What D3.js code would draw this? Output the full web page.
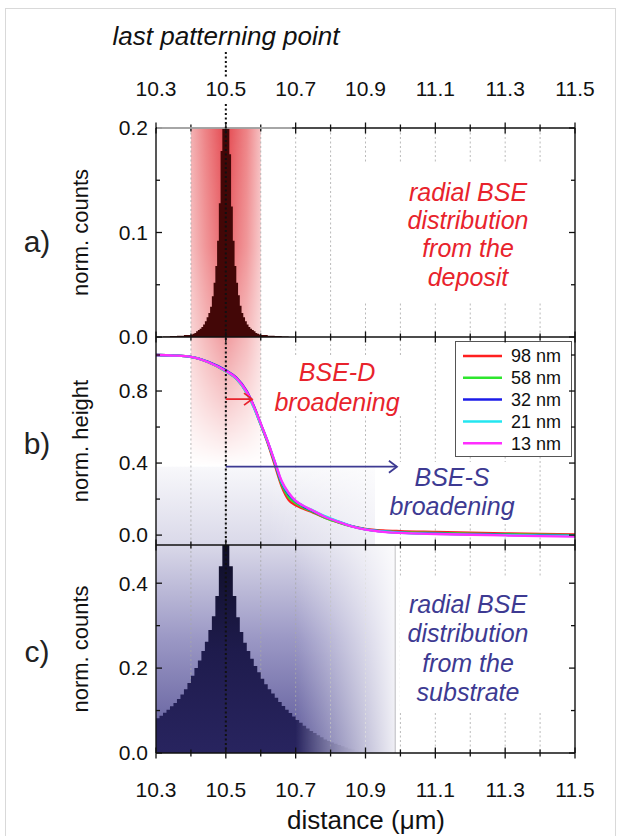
<!DOCTYPE html>
<html><head><meta charset="utf-8">
<script src="https://cdn.jsdelivr.net/npm/d3@7"></script>
<style>html,body{margin:0;padding:0;background:#fff;} svg{display:block;font-family:"Liberation Sans",Arial,sans-serif;}</style>
</head><body><svg id="chart" width="620" height="836"></svg>
<script>
// ---------------- DATA ----------------
const xTicksMajor = [10.3, 10.5, 10.7, 10.9, 11.1, 11.3, 11.5];
const xTicksMinor = [10.4, 10.6, 10.8, 11.0, 11.2, 11.4];
const yTicksA = [0.0, 0.1, 0.2];  const yMinorA = [0.05, 0.15];
const yTicksB = [0.0, 0.4, 0.8];  const yMinorB = [0.2, 0.6, 1.0];
const yTicksC = [0.0, 0.2, 0.4];  const yMinorC = [0.1, 0.3];
const lastPatterningPoint = 10.5;

// a) radial BSE distribution from the deposit (histogram)
const depositEdges = [10.32,10.34,10.36,10.38,10.4,10.405,10.41,10.415,10.42,10.425,10.43,10.435,10.44,10.445,10.45,10.455,10.46,10.465,10.47,10.475,10.48,10.485,10.49,10.495,10.5,10.505,10.51,10.515,10.52,10.525,10.53,10.535,10.54,10.545,10.55,10.555,10.56,10.565,10.57,10.575,10.58,10.585,10.59,10.595,10.6,10.62,10.64,10.66,10.68];
const depositCounts = [0.0005,0.0009,0.0013,0.0019,
  0.0024,0.003,0.0038,0.0055,0.0068,0.0078,0.0095,0.012,0.015,0.019,0.023,0.029,0.039,0.052,0.068,0.092,0.128,0.178,0.245,0.5,
  0.5,0.245,0.175,0.125,0.092,0.068,0.052,0.040,0.030,0.023,0.019,0.015,0.012,0.0095,0.0078,0.0066,0.0054,0.0039,0.003,0.0024,
  0.0019,0.0013,0.0009,0.0005];

// c) radial BSE distribution from the substrate (histogram)
const substrateEdges = [10.30,10.31,10.32,10.33,10.34,10.35,10.36,10.37,10.38,10.39,10.40,10.41,10.42,10.43,10.44,10.45,10.46,10.47,10.48,10.49,10.50,10.51,10.52,10.53,10.54,10.55,10.56,10.57,10.58,10.59,10.60,10.61,10.62,10.63,10.64,10.65,10.66,10.67,10.68,10.69,10.70,10.71,10.72,10.73,10.74,10.75,10.76,10.77,10.78,10.79,10.80,10.81,10.82,10.83,10.84,10.85,10.86,10.87,10.88,10.89,10.90,10.91,10.92,10.93,10.94,10.95,10.96,10.97,10.98,10.99,11.00];
const substrateCounts = [0.082,0.088,0.095,0.102,0.110,0.118,0.127,0.138,0.150,0.165,
  0.182,0.200,0.218,0.240,0.262,0.290,0.322,0.370,0.440,0.560,
  0.560,0.440,0.370,0.320,0.285,0.260,0.240,0.222,0.205,0.190,
  0.175,0.162,0.150,0.140,0.130,0.120,0.111,0.102,0.094,0.086,
  0.078,0.071,0.064,0.058,0.052,0.047,0.042,0.037,0.032,0.028,
  0.025,0.022,0.019,0.016,0.013,0.010,0.008,0.006,0.005,0.004,
  0.003,0.0025,0.002,0.0015,0.001,0.001,0.0005,0.0005,0.0003,0.0002];

// b) normalised height profiles
const heightX = [10.3,10.35,10.4,10.45,10.5,10.53,10.56,10.58,10.6,10.62,10.64,10.66,10.68,10.70,10.72,10.75,10.78,10.82,10.86,10.9,10.95,11.0,11.1,11.2,11.3,11.4,11.5];
const h98 = [1.0,0.997,0.99,0.96,0.91,0.868,0.79,0.712,0.612,0.51,0.39,0.27,0.195,0.165,0.148,0.125,0.100,0.072,0.050,0.035,0.026,0.022,0.018,0.014,0.010,0.006,0.004];
const h58 = [1.0,0.997,0.99,0.96,0.91,0.870,0.792,0.714,0.615,0.515,0.40,0.28,0.210,0.178,0.155,0.128,0.100,0.072,0.048,0.032,0.022,0.017,0.012,0.008,0.005,0.002,0.000];
const h32 = [1.0,0.997,0.99,0.962,0.915,0.875,0.800,0.718,0.618,0.518,0.405,0.29,0.225,0.188,0.162,0.133,0.105,0.076,0.050,0.032,0.020,0.014,0.008,0.004,0.001,-0.002,-0.004];
const h21 = [1.0,0.997,0.99,0.96,0.91,0.868,0.788,0.708,0.614,0.518,0.408,0.295,0.232,0.190,0.165,0.136,0.108,0.078,0.050,0.032,0.020,0.013,0.007,0.003,0.000,-0.003,-0.005];
const h13 = [1.0,0.997,0.99,0.96,0.912,0.872,0.795,0.716,0.620,0.520,0.410,0.300,0.235,0.190,0.165,0.135,0.105,0.075,0.048,0.030,0.018,0.012,0.006,0.002,-0.002,-0.006,-0.008];
const seriesNames = ["98 nm", "58 nm", "32 nm", "21 nm", "13 nm"];
const seriesValues = [h98, h58, h32, h21, h13];
const seriesColors = ["#ff1f1f", "#2ee62e", "#1c1ce8", "#24e6f0", "#ff2eff"];

// ---------------- LAYOUT ----------------
const svg = d3.select("#chart");
const X0 = 156, X1 = 575;
const PA = {top: 128, bottom: 337}, PB = {top: 337, bottom: 545}, PC = {top: 545, bottom: 753};
const x = d3.scaleLinear().domain([10.3, 11.5]).range([X0, X1]);
const ya = d3.scaleLinear().domain([0, 0.2]).range([PA.bottom, PA.top]);
const yb = d3.scaleLinear().domain([-0.055, 1.1]).range([PB.bottom, PB.top]);
const yc = d3.scaleLinear().domain([0, 0.49]).range([PC.bottom, PC.top]);
const RED = "#e8232c", NAVY = "#3d3a92";

// outer frame
svg.append("rect").attr("x", 5.5).attr("y", 8.5).attr("width", 610).attr("height", 840)
  .attr("fill", "none").attr("stroke", "#d9d9d9").attr("stroke-width", 1);

const defs = svg.append("defs");
function clip(id, p) {
  defs.append("clipPath").attr("id", id).append("rect")
    .attr("x", X0).attr("y", p.top).attr("width", X1 - X0).attr("height", p.bottom - p.top);
}
clip("clipA", PA); clip("clipB", PB); clip("clipC", PC);

// red horizontal gradient for the deposit band
const gRed = defs.append("linearGradient").attr("id", "redH").attr("x1", 0).attr("x2", 1).attr("y1", 0).attr("y2", 0);
[[0, "#f4b2b4"], [0.2, "#ee8588"], [0.5, "#e4484f"], [0.8, "#ee8588"], [1, "#f6c0c2"]]
  .forEach(([o, c]) => gRed.append("stop").attr("offset", o).attr("stop-color", c));
const gRedV = defs.append("linearGradient").attr("id", "redV").attr("gradientUnits", "userSpaceOnUse")
  .attr("x1", 0).attr("x2", 0).attr("y1", PA.top).attr("y2", yb(0.38));
[[0, 1], [0.35, 0.85], [0.62, 0.55], [0.8, 0.3], [1, 0]].forEach(([o, a]) =>
  gRedV.append("stop").attr("offset", o).attr("stop-color", "#fff").attr("stop-opacity", a));
const mRed = defs.append("mask").attr("id", "maskRed").attr("maskUnits", "userSpaceOnUse")
  .attr("x", 0).attr("y", 0).attr("width", 620).attr("height", 836);
mRed.append("rect").attr("x", 0).attr("y", PA.top).attr("width", 620).attr("height", yb(0.38) - PA.top).attr("fill", "url(#redV)");

// substrate background gradient (vertical)
const gSub = defs.append("linearGradient").attr("id", "subV").attr("gradientUnits", "userSpaceOnUse")
  .attr("x1", 0).attr("x2", 0).attr("y1", yb(0.38)).attr("y2", PC.bottom);
[[0, "#f8f8fb"], [0.27, "#dad9e9"], [0.6, "#9b98c5"], [1, "#5b5798"]]
  .forEach(([o, c]) => gSub.append("stop").attr("offset", o).attr("stop-color", c));
// white fade on the right
function whiteFade(id, from, to, aMax) {
  const g = defs.append("linearGradient").attr("id", id).attr("gradientUnits", "userSpaceOnUse")
    .attr("x1", x(from)).attr("x2", x(to)).attr("y1", 0).attr("y2", 0);
  g.append("stop").attr("offset", 0).attr("stop-color", "#fff").attr("stop-opacity", 0);
  g.append("stop").attr("offset", 1).attr("stop-color", "#fff").attr("stop-opacity", aMax);
}
whiteFade("fadeC", 10.70, 10.985, 0.9);
whiteFade("fadeB", 10.62, 10.927, 0.6);
// substrate histogram fill and fade mask
const gHist = defs.append("linearGradient").attr("id", "histV").attr("gradientUnits", "userSpaceOnUse")
  .attr("x1", 0).attr("x2", 0).attr("y1", PC.top).attr("y2", PC.bottom);
[[0, "#0f0e26"], [0.5, "#1e1b4c"], [1, "#28245f"]]
  .forEach(([o, c]) => gHist.append("stop").attr("offset", o).attr("stop-color", c));
const gHistM = defs.append("linearGradient").attr("id", "histM").attr("gradientUnits", "userSpaceOnUse")
  .attr("x1", x(10.70)).attr("x2", x(10.90)).attr("y1", 0).attr("y2", 0);
gHistM.append("stop").attr("offset", 0).attr("stop-color", "#fff");
gHistM.append("stop").attr("offset", 1).attr("stop-color", "#000");
const mHist = defs.append("mask").attr("id", "maskHist").attr("maskUnits", "userSpaceOnUse")
  .attr("x", 0).attr("y", 0).attr("width", 620).attr("height", 836);
mHist.append("rect").attr("x", 0).attr("y", PC.top - 5).attr("width", 620).attr("height", PC.bottom - PC.top + 10).attr("fill", "url(#histM)");

// ---------- backgrounds ----------
svg.append("rect").attr("x", x(10.3)).attr("y", yb(0.38)).attr("width", x(10.927) - x(10.3))
  .attr("height", PB.bottom - yb(0.38)).attr("fill", "url(#subV)");
svg.append("rect").attr("x", x(10.3)).attr("y", yb(0.38)).attr("width", x(10.927) - x(10.3))
  .attr("height", PB.bottom - yb(0.38)).attr("fill", "url(#fadeB)");
svg.append("rect").attr("x", x(10.3)).attr("y", PC.top).attr("width", x(10.985) - x(10.3))
  .attr("height", PC.bottom - PC.top).attr("fill", "url(#subV)");
svg.append("rect").attr("x", x(10.4)).attr("y", PA.top).attr("width", x(10.6) - x(10.4))
  .attr("height", yb(0.38) - PA.top).attr("fill", "url(#redH)").attr("mask", "url(#maskRed)");

// ---------- grid ----------
const gridVals = xTicksMinor.concat(xTicksMajor.slice(1, -1)).sort(d3.ascending);
svg.append("g").selectAll("line").data(gridVals).join("line")
  .attr("x1", d => x(d)).attr("x2", d => x(d)).attr("y1", PA.top).attr("y2", PC.bottom)
  .attr("stroke", "#a8a8a8").attr("stroke-width", 0.8).attr("stroke-dasharray", "2,2.5");

// ---------- panel a histogram ----------
const histA = depositCounts.map((c, i) => [depositEdges[i], c]).concat([[depositEdges[depositEdges.length - 1], depositCounts[depositCounts.length - 1]]]);
svg.append("path").datum(histA).attr("clip-path", "url(#clipA)")
  .attr("fill", "#430707")
  .attr("d", d3.area().curve(d3.curveStepAfter).x(d => x(d[0])).y0(ya(0)).y1(d => ya(d[1])));

// ---------- panel c histogram ----------
const histC = substrateCounts.map((c, i) => [substrateEdges[i], c]).concat([[substrateEdges[substrateEdges.length - 1], substrateCounts[substrateCounts.length - 1]]]);
svg.append("path").datum(histC).attr("clip-path", "url(#clipC)")
  .attr("fill", "url(#histV)").attr("mask", "url(#maskHist)")
  .attr("d", d3.area().curve(d3.curveStepAfter).x(d => x(d[0])).y0(yc(0)).y1(d => yc(d[1])));
svg.append("rect").attr("x", x(10.3)).attr("y", PC.top).attr("width", x(10.985) - x(10.3))
  .attr("height", PC.bottom - PC.top).attr("fill", "url(#fadeC)");
svg.append("line").attr("x1", x(10.985)).attr("x2", x(10.985)).attr("y1", PC.top).attr("y2", PC.bottom)
  .attr("stroke", "#b8b8b8").attr("stroke-width", 0.8);

// ---------- white boxes behind annotations ----------
const boxes = [[355, 163, 210, 140], [400, 577, 160, 136], [266, 357, 146, 58], [380, 462, 146, 60]];
svg.append("g").selectAll("rect").data(boxes).join("rect")
  .attr("x", d => d[0]).attr("y", d => d[1]).attr("width", d => d[2]).attr("height", d => d[3]).attr("fill", "#fff");

// ---------- panel b curves ----------
const line = d3.line().curve(d3.curveMonotoneX).x((d, i) => x(heightX[i])).y(d => yb(d));
svg.append("g").attr("clip-path", "url(#clipB)").selectAll("path").data(seriesValues).join("path")
  .attr("fill", "none").attr("stroke", (d, i) => seriesColors[i]).attr("stroke-width", 2.3)
  .attr("stroke-linejoin", "round").attr("d", line);

// legend
const lg = svg.append("g");
lg.append("rect").attr("x", 455.5).attr("y", 341.5).attr("width", 116).attr("height", 115)
  .attr("fill", "#fff").attr("stroke", "#555").attr("stroke-width", 1);
seriesNames.forEach((n, i) => {
  const yy = 356 + i * 21.8;
  lg.append("line").attr("x1", 463).attr("x2", 502).attr("y1", yy).attr("y2", yy)
    .attr("stroke", seriesColors[i]).attr("stroke-width", 2.5);
  lg.append("text").attr("x", 511).attr("y", yy).attr("dy", "0.36em").attr("font-size", 18)
    .attr("fill", "#111").text(n);
});

// ---------- axes ----------
const axG = svg.append("g");
function hTicks(yPos, vals, len) {
  axG.append("g").selectAll("line").data(vals).join("line")
    .attr("x1", d => x(d)).attr("x2", d => x(d)).attr("y1", yPos - len).attr("y2", yPos + len)
    .attr("stroke", "#111").attr("stroke-width", 1.3);
}
[PA.top, PA.bottom, PB.bottom, PC.bottom].forEach(yy => {
  hTicks(yy, xTicksMajor, 5.5); hTicks(yy, xTicksMinor, 3.5);
});
function vTicks(scale, majors, minors) {
  [[X0, 1], [X1, -1]].forEach(([xx, dir]) => {
    axG.append("g").selectAll("line").data(majors).join("line")
      .attr("x1", xx).attr("x2", xx + dir * 6).attr("y1", d => scale(d)).attr("y2", d => scale(d))
      .attr("stroke", "#111").attr("stroke-width", 1.3);
    axG.append("g").selectAll("line").data(minors).join("line")
      .attr("x1", xx).attr("x2", xx + dir * 4).attr("y1", d => scale(d)).attr("y2", d => scale(d))
      .attr("stroke", "#111").attr("stroke-width", 1.3);
  });
  axG.append("g").selectAll("text").data(majors).join("text")
    .attr("x", X0 - 8).attr("y", d => scale(d)).attr("dy", "0.35em").attr("text-anchor", "end")
    .attr("font-size", 21).attr("fill", "#111").text(d => d3.format(".1f")(d));
}
vTicks(ya, yTicksA, yMinorA);
vTicks(yb, yTicksB, yMinorB);
vTicks(yc, yTicksC, yMinorC);
[PA.top, PA.bottom, PB.bottom, PC.bottom].forEach(yy =>
  axG.append("line").attr("x1", X0).attr("x2", X1).attr("y1", yy).attr("y2", yy).attr("stroke", "#111").attr("stroke-width", 1.4));
[X0, X1].forEach(xx =>
  axG.append("line").attr("x1", xx).attr("x2", xx).attr("y1", PA.top).attr("y2", PC.bottom).attr("stroke", "#111").attr("stroke-width", 1.4));
axG.append("line").attr("x1", x(10.3) + 1).attr("x2", x(10.69)).attr("y1", PA.top).attr("y2", PA.top)
  .attr("stroke", "#c4c4c4").attr("stroke-width", 1.6);

// x tick labels top and bottom
axG.append("g").selectAll("text").data(xTicksMajor).join("text")
  .attr("x", d => x(d)).attr("y", 96).attr("text-anchor", "middle").attr("font-size", 21).attr("fill", "#111")
  .text(d => d3.format(".1f")(d));
axG.append("g").selectAll("text").data(xTicksMajor).join("text")
  .attr("x", d => x(d)).attr("y", 797).attr("text-anchor", "middle").attr("font-size", 21).attr("fill", "#111")
  .text(d => d3.format(".1f")(d));

// dotted last patterning point line
svg.append("line").attr("x1", x(lastPatterningPoint)).attr("x2", x(lastPatterningPoint)).attr("y1", 52).attr("y2", 77)
  .attr("stroke", "#111").attr("stroke-width", 2).attr("stroke-dasharray", "2,2.5");
svg.append("line").attr("x1", x(lastPatterningPoint)).attr("x2", x(lastPatterningPoint)).attr("y1", 104).attr("y2", PC.bottom)
  .attr("stroke", "#111").attr("stroke-width", 2).attr("stroke-dasharray", "2,2.5");

// ---------- titles ----------
svg.append("text").attr("x", 226).attr("y", 45).attr("text-anchor", "middle").attr("font-size", 26)
  .attr("font-style", "italic").attr("fill", "#111").text("last patterning point");
svg.append("text").attr("x", 366).attr("y", 829).attr("text-anchor", "middle").attr("font-size", 26)
  .attr("fill", "#111").text("distance (μm)");
[["norm. counts", PA], ["norm. height", PB], ["norm. counts", PC]].forEach(([t, p]) => {
  const cy = (p.top + p.bottom) / 2;
  svg.append("text").attr("transform", `translate(88,${cy}) rotate(-90)`).attr("text-anchor", "middle")
    .attr("font-size", 22).attr("fill", "#111").text(t);
});
[["a)", 241], ["b)", 443], ["c)", 651]].forEach(([t, yy]) => {
  svg.append("text").attr("x", 37).attr("y", yy).attr("dy", "0.35em").attr("text-anchor", "middle")
    .attr("font-size", 30).attr("fill", "#222").text(t);
});

// ---------- annotations ----------
function block(lines, cx, y0, dy, color) {
  lines.forEach((t, i) => svg.append("text").attr("x", cx).attr("y", y0 + i * dy).attr("dy", "0.35em")
    .attr("text-anchor", "middle").attr("font-size", 25).attr("font-style", "italic").attr("fill", color).text(t));
}
block(["radial BSE", "distribution", "from the", "deposit"], 468, 192, 28.3, RED);
block(["radial BSE", "distribution", "from the", "substrate"], 468, 604, 29.5, NAVY);
block(["BSE-D", "broadening"], 337, 372, 30, RED);
block(["BSE-S", "broadening"], 452, 477, 29, NAVY);

// arrows
function arrow(x1, x2, yy, color) {
  svg.append("line").attr("x1", x1).attr("x2", x2).attr("y1", yy).attr("y2", yy).attr("stroke", color).attr("stroke-width", 1.8);
  svg.append("path").attr("d", `M${x2 - 8},${yy - 6} L${x2},${yy} L${x2 - 8},${yy + 6}`)
    .attr("fill", "none").attr("stroke", color).attr("stroke-width", 1.8);
}
arrow(x(10.5), x(10.575), yb(0.755), RED);
arrow(x(10.5), x(10.99), yb(0.38), NAVY);
</script></body></html>
